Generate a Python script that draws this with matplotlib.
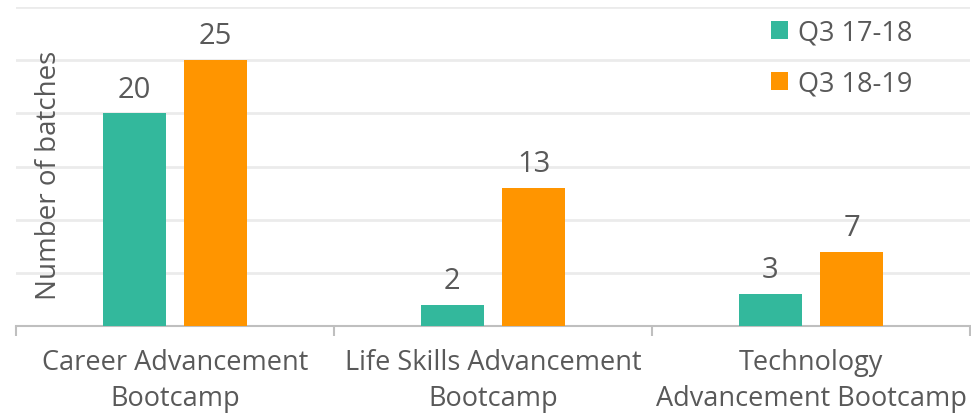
import matplotlib
matplotlib.use("Agg")
import matplotlib.pyplot as plt
import numpy as np

categories = ["Career Advancement\nBootcamp",
              "Life Skills Advancement\nBootcamp",
              "Technology\nAdvancement Bootcamp"]
series_names = ["Q3 17-18", "Q3 18-19"]
q3_1718 = [20, 2, 3]
q3_1819 = [25, 13, 7]

GREEN = "#33B89C"
ORANGE = "#FF9500"
TEXT = "#595959"

plt.rcParams['font.family'] = ['Open Sans', 'DejaVu Sans']

fig = plt.figure(figsize=(9.71, 4.14), dpi=100)
ax = fig.add_axes([16 / 971, 87 / 414, 954 / 971, 319 / 414])

x = np.arange(len(categories))
w = 0.198
off = 0.128
b1 = ax.bar(x - off, q3_1718, w, color=GREEN, label=series_names[0], zorder=3)
b2 = ax.bar(x + off, q3_1819, w, color=ORANGE, label=series_names[1], zorder=3)

for bars in (b1, b2):
    for rect in bars:
        ax.annotate(f"{rect.get_height():g}",
                    (rect.get_x() + rect.get_width() / 2, rect.get_height()),
                    xytext=(0, 7), textcoords="offset points",
                    ha="center", va="bottom", fontsize=21, color=TEXT)

ax.set_xlim(-0.5, 2.5)
ax.set_ylim(0, 30)
ax.set_yticks(np.arange(5, 31, 5))
ax.yaxis.grid(True, color="#EBEBEB", linewidth=2, zorder=0)
ax.tick_params(axis="y", length=0, labelleft=False)

ax.set_xticks(x)
ax.set_xticklabels(categories, fontsize=19.5, color=TEXT, linespacing=1.38)
ax.set_xticks([-0.5, 0.5, 1.5, 2.5], minor=True)
ax.tick_params(axis="x", which="major", length=0, pad=16)
ax.tick_params(axis="x", which="minor", length=7, width=1.5, color="#BFBFBF")

for s in ("top", "right", "left"):
    ax.spines[s].set_visible(False)
ax.spines["bottom"].set_color("#BFBFBF")
ax.spines["bottom"].set_linewidth(1.5)

ax.text(0.035, 0.476, "Number of batches", transform=ax.transAxes, rotation=90,
        ha="center", va="center", fontsize=20, color=TEXT)

leg = ax.legend(loc="upper right", bbox_to_anchor=(0.965, 1.04), frameon=False,
                fontsize=19.5, handlelength=0.65, handleheight=0.65,
                handletextpad=0.35, labelspacing=0.85)
for t in leg.get_texts():
    t.set_color(TEXT)

fig.savefig("out.png", dpi=100)
